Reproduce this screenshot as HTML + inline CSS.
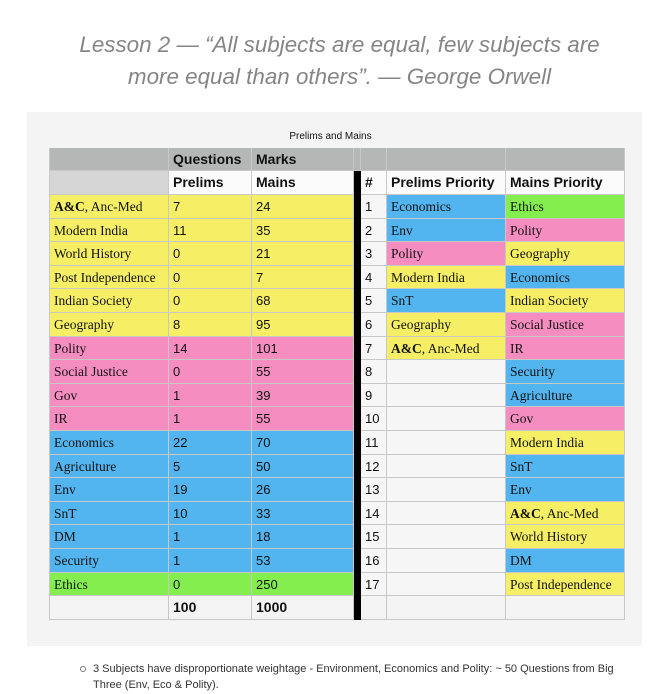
<!DOCTYPE html>
<html><head><meta charset="utf-8"><style>
body{margin:0;width:661px;height:694px;background:#fff;position:relative;overflow:hidden;font-family:"Liberation Sans",sans-serif}
#title{position:absolute;left:9px;width:661px;top:29px;text-align:center;font-style:italic;color:#858585;font-size:22.4px;line-height:32px}
#panel{position:absolute;left:27px;top:112px;width:615px;height:534px;background:#f3f4f3}
#cap{position:absolute;left:0;width:661px;top:131px;text-align:center;font-size:10px;color:#111}
.c{position:absolute;box-sizing:border-box;border-right:1px solid #c8c8c8;border-bottom:1px solid #c8c8c8;padding-left:4px;font-size:13px;line-height:23px;color:#111;white-space:nowrap;overflow:hidden}
.s{font-family:"Liberation Serif",serif;font-size:13.5px}
.h{font-weight:bold;font-size:14px}
#bullet{position:absolute;left:93px;top:661px;font-size:11px;color:#333;line-height:16px;width:535px}
#dot{position:absolute;left:80px;top:666px;width:4px;height:4px;border:1px solid #777;border-radius:50%}
</style></head><body>
<div id="title">Lesson 2 — “All subjects are equal, few subjects are<br>more equal than others”. — George Orwell</div>
<div id="panel"></div>
<div id="cap">Prelims and Mains</div>
<div id="tbl"></div>
<div id="dot"></div>
<div id="bullet">3 Subjects have disproportionate weightage - Environment, Economics and Polity: ~ 50 Questions from Big Three (Env, Eco &amp; Polity).</div>
<script>
const subjects=["A&C, Anc-Med","Modern India","World History","Post Independence","Indian Society","Geography","Polity","Social Justice","Gov","IR","Economics","Agriculture","Env","SnT","DM","Security","Ethics"];
const prelims=[7,11,0,0,0,8,14,0,1,1,22,5,19,10,1,1,0];
const mains=[24,35,21,7,68,95,101,55,39,55,70,50,26,33,18,53,250];
const groups=["y","y","y","y","y","y","p","p","p","p","b","b","b","b","b","b","g"];
const prelimsPriority=["Economics","Env","Polity","Modern India","SnT","Geography","A&C, Anc-Med"];
const mainsPriority=["Ethics","Polity","Geography","Economics","Indian Society","Social Justice","IR","Security","Agriculture","Gov","Modern India","SnT","Env","A&C, Anc-Med","World History","DM","Post Independence"];
const totals=["100","1000"];
const COL={y:"#f6ef66",p:"#f68dc1",b:"#53b5ef",g:"#84ee4f"};
const groupOf={};subjects.forEach((s,i)=>groupOf[s]=groups[i]);
const X=[50,169,252,354,361,387,506,625];
const T=[148,171,195];const RH=23.6;
const tbl=document.getElementById('tbl');
function cell(x0,x1,y,h,txt,bg,cls,name){
 const d=document.createElement('div');d.className='c '+(cls||'');
 d.style.left=x0+'px';d.style.width=(x1-x0)+'px';d.style.top=y+'px';d.style.height=h+'px';
 d.style.background=bg;
 if(txt!==undefined){
  if(txt.indexOf('A&C')===0){d.innerHTML='<b>A&amp;C</b>, Anc-Med';}else d.textContent=txt;
 }
 
 
 tbl.appendChild(d);return d;}
const G="#b5b7b6";
cell(X[0],X[1],T[0],23,'',G,'','header-blank');
cell(X[1],X[2],T[0],23,'Questions',G,'h','header-questions');
cell(X[2],X[3],T[0],23,'Marks',G,'h','header-marks');
cell(X[3],X[4],T[0],23,'',G,'','header-gap');
cell(X[4],X[5],T[0],23,'',G,'','header-blank-num');
cell(X[5],X[6],T[0],23,'',G,'','header-blank-prelims');
cell(X[6],X[7],T[0],23,'',G,'','header-blank-mains');
cell(X[0],X[1],T[1],24,'',"#d5d6d5",'','subheader-blank');
cell(X[1],X[2],T[1],24,'Prelims',"#fbfbfb",'h','subheader-prelims');
cell(X[2],X[3],T[1],24,'Mains',"#fbfbfb",'h','subheader-mains');
cell(X[4],X[5],T[1],24,'#',"#fbfbfb",'h','subheader-rank');
cell(X[5],X[6],T[1],24,'Prelims Priority',"#fbfbfb",'h','subheader-prelims-priority');
cell(X[6],X[7],T[1],24,'Mains Priority',"#fbfbfb",'h','subheader-mains-priority');
for(let i=0;i<subjects.length;i++){
 const y=Math.round(T[2]+i*RH),h=Math.round(T[2]+(i+1)*RH)-y,bg=COL[groups[i]];
 cell(X[0],X[1],y,h,subjects[i],bg,'s','subject-cell');
 cell(X[1],X[2],y,h,String(prelims[i]),bg,'','prelims-value');
 cell(X[2],X[3],y,h,String(mains[i]),bg,'','mains-value');
 cell(X[4],X[5],y,h,String(i+1),"#f6f6f6",'','rank-cell');
 const pp=prelimsPriority[i];
 cell(X[5],X[6],y,h,pp||'',pp?COL[groupOf[pp]]:"#f6f6f6",'s','prelims-priority-cell');
 const mp=mainsPriority[i];
 cell(X[6],X[7],y,h,mp||'',mp?COL[groupOf[mp]]:"#f6f6f6",'s','mains-priority-cell');
}
const yt=Math.round(T[2]+subjects.length*RH);
cell(X[0],X[1],yt,24,'',"#f3f4f3",'','total-blank');
cell(X[1],X[2],yt,24,totals[0],"#f3f4f3",'h','total-prelims');
cell(X[2],X[3],yt,24,totals[1],"#f3f4f3",'h','total-mains');
cell(X[4],X[5],yt,24,'',"#f3f4f3",'','total-rank');
cell(X[5],X[6],yt,24,'',"#f3f4f3",'','total-pp');
cell(X[6],X[7],yt,24,'',"#f3f4f3",'','total-mp');
const lb=document.createElement('div');
lb.style.cssText='position:absolute;background:#000;left:'+X[3]+'px;width:'+(X[4]-X[3])+'px;top:'+T[1]+'px;height:'+(yt+24-T[1])+'px';


tbl.appendChild(lb);
const bl=document.createElement('div');
bl.style.cssText='position:absolute;left:'+(X[0]-1)+'px;top:'+T[0]+'px;width:1px;height:'+(yt+24-T[0])+'px;background:#c8c8c8';


tbl.appendChild(bl);
</script>
</body></html>
